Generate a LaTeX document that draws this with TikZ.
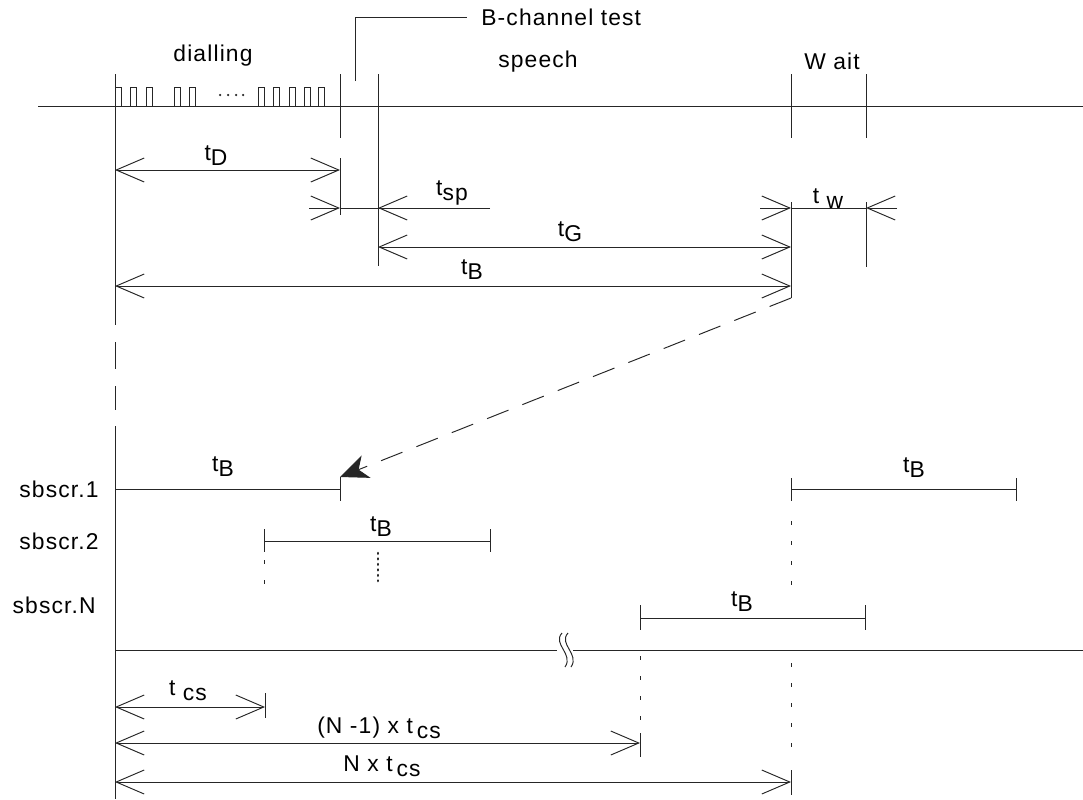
\documentclass[tikz,border=0pt]{standalone}
\usepackage{fontspec}
\setmainfont{Liberation Sans}[LetterSpace=5]
\usepackage{tikz}
\usetikzlibrary{arrows.meta}

\newcommand{\tlab}[1]{t\raisebox{-1mm}{#1}}

\tikzset{
  barb/.tip={Straight Barb[length=5.6mm,width=4.8mm]},
  tline/.style={line width=0.55pt, draw=black!85},
  dimarrow/.style={tline, barb-barb},
  halfarrow/.style={tline, -barb},
  gapdash/.style={tline, dash pattern=on 5.4mm off 3.4mm},
  sdash/.style={tline, dash pattern=on 0.8mm off 3.2mm},
  dotline/.style={line width=1.5pt, draw=black!85, dash pattern=on 0.15mm off 0.95mm, line cap=round},
  jump/.style={tline, dash pattern=on 4.6mm off 3mm, -{Stealth[length=5.6mm,width=4.8mm,inset=1.6mm]}},
  lbl/.style={font=\fontsize{13}{15}\selectfont, inner sep=0pt}
}

\begin{document}
\begin{tikzpicture}[x=0.2mm, y=-0.2mm]
  \useasboundingbox (0,0) rectangle (1083,799);

  % line with the dialling pulses
  \draw[tline] (38,106) -- (1083,106);
  \foreach \px in {115,130,146,174,189,258,273,289,304,318}
    \draw[tline] (\px,106) -- (\px,87) -- (\px+6,87) -- (\px+6,106);
  \foreach \px in {220,228,236,243}
    \fill[black!85] (\px,95) circle (0.25mm);

  \node[lbl] (dial) at (213,56) {dialling};
  \node[lbl] (speech) at (538,62) {speech};
  \node[lbl] (wait) at (832,61) {W ait};
  \node[lbl, anchor=west] (bctest) at (481,17) {B-channel test};
  \coordinate (bcfoot) at (355,81);
  \draw[tline] (bcfoot) |- (bctest.west -| 467,17);

  % marks on the line
  \draw[tline] (115,74) -- (115,298);
  \draw[gapdash] (115,298) -- (115,410);
  \draw[tline] (115,426) -- (115,799);
  \draw[tline] (340,74) -- (340,138);
  \draw[tline] (340,158) -- (340,215);
  \draw[tline] (378,74) -- (378,266);
  \draw[tline] (791,74) -- (791,138);
  \draw[tline] (791,202) -- (791,298);
  \draw[tline] (866,74) -- (866,138);
  \draw[tline] (866,202) -- (866,267);

  % times of one call
  \coordinate (dA) at (115,170);
  \coordinate (dB) at (340,170);
  \draw[dimarrow] (dA) -- (dB);
  \node[lbl] (tD) at (216,156) {\tlab{D}};

  \coordinate (spA) at (309,208);
  \coordinate (spB) at (340,208);
  \coordinate (spC) at (378,208);
  \coordinate (spD) at (490,208);
  \draw[tline] (spB) -- (spD);
  \draw[halfarrow] (spA) -- (spB);
  \draw[halfarrow] (spD) -- (spC);
  \node[lbl] (tsp) at (452,193) {\tlab{sp}};

  \coordinate (wA) at (760,208);
  \coordinate (wB) at (791,208);
  \coordinate (wC) at (866,208);
  \coordinate (wD) at (897,208);
  \draw[tline] (wB) -- (wC);
  \draw[halfarrow] (wA) -- (wB);
  \draw[halfarrow] (wD) -- (wC);
  \node[lbl] (tw) at (828,199) {t \raisebox{-1mm}{w}};

  \coordinate (gA) at (378,247);
  \coordinate (gB) at (791,247);
  \draw[dimarrow] (gA) -- (gB);
  \node[lbl] (tG) at (570,232) {\tlab{G}};

  \coordinate (bA) at (115,286);
  \coordinate (bB) at (791,286);
  \draw[dimarrow] (bA) -- (bB);
  \node[lbl] (tB) at (472,270) {\tlab{B}};

  % subscribers
  \node[lbl, anchor=east] (s1) at (99,489) {sbscr.1};
  \node[lbl, anchor=east] (s2) at (99,541) {sbscr.2};
  \node[lbl, anchor=east] (sN) at (96,605) {sbscr.N};

  \coordinate (oneA) at (115,489);
  \coordinate (oneB) at (340,489);
  \draw[tline] (oneA) -- (oneB);
  \draw[tline] (115,478) -- (115,500);
  \draw[tline] (340,477) -- (340,501);
  \node[lbl] (tB1) at (223,467) {\tlab{B}};
  \draw[jump] (bB |- 0,298) -- (340,477);

  \coordinate (reA) at (791,489);
  \coordinate (reB) at (1016,489);
  \draw[tline] (reA) -- (reB);
  \draw[tline] (791,478) -- (791,501);
  \draw[tline] (1016,478) -- (1016,501);
  \node[lbl] (tB4) at (914,468) {\tlab{B}};
  \draw[sdash] (791,521) -- (791,587);

  \coordinate (twoA) at (264,541);
  \coordinate (twoB) at (490,541);
  \draw[tline] (twoA) -- (twoB);
  \draw[tline] (264,529) -- (264,552);
  \draw[tline] (490,529) -- (490,552);
  \node[lbl] (tB2) at (381,527) {\tlab{B}};
  \draw[sdash] (264,560) -- (264,586);
  \draw[dotline] (378,553) -- (378,581);

  \coordinate (nA) at (640,618);
  \coordinate (nB) at (865,618);
  \draw[tline] (nA) -- (nB);
  \draw[tline] (640,605) -- (640,630);
  \draw[tline] (865,605) -- (865,630);
  \node[lbl] (tB3) at (742,602) {\tlab{B}};

  % broken base line
  \draw[tline] (115,650) -- (557,650);
  \draw[tline] (573,650) -- (1083,650);
  \draw[tline] (562,633) .. controls (552,644) and (574,654) .. (565,667);
  \draw[tline] (568,633) .. controls (558,644) and (580,654) .. (571,667);

  % call set-up times
  \draw[sdash] (640,656) -- (640,733);
  \draw[tline] (640,733) -- (640,757);
  \draw[sdash] (791,663) -- (791,750);
  \draw[tline] (791,770) -- (791,795);
  \draw[tline] (265,693) -- (265,718);

  \coordinate (cA) at (115,707);
  \coordinate (cB) at (265,707);
  \draw[dimarrow] (cA) -- (cB);
  \node[lbl] (tcs) at (188,691) {t \raisebox{-1mm}{cs}};

  \coordinate (mA) at (115,743);
  \coordinate (mB) at (640,743);
  \draw[dimarrow] (mA) -- (mB);
  \node[lbl] (tcsm) at (379,728) {(N -1) x t\,\raisebox{-1mm}{cs}};

  \coordinate (nnA) at (115,782);
  \coordinate (nnB) at (791,782);
  \draw[dimarrow] (nnA) -- (nnB);
  \node[lbl] (tcsn) at (382,766) {N x t\,\raisebox{-1mm}{cs}};
\end{tikzpicture}
\end{document}
